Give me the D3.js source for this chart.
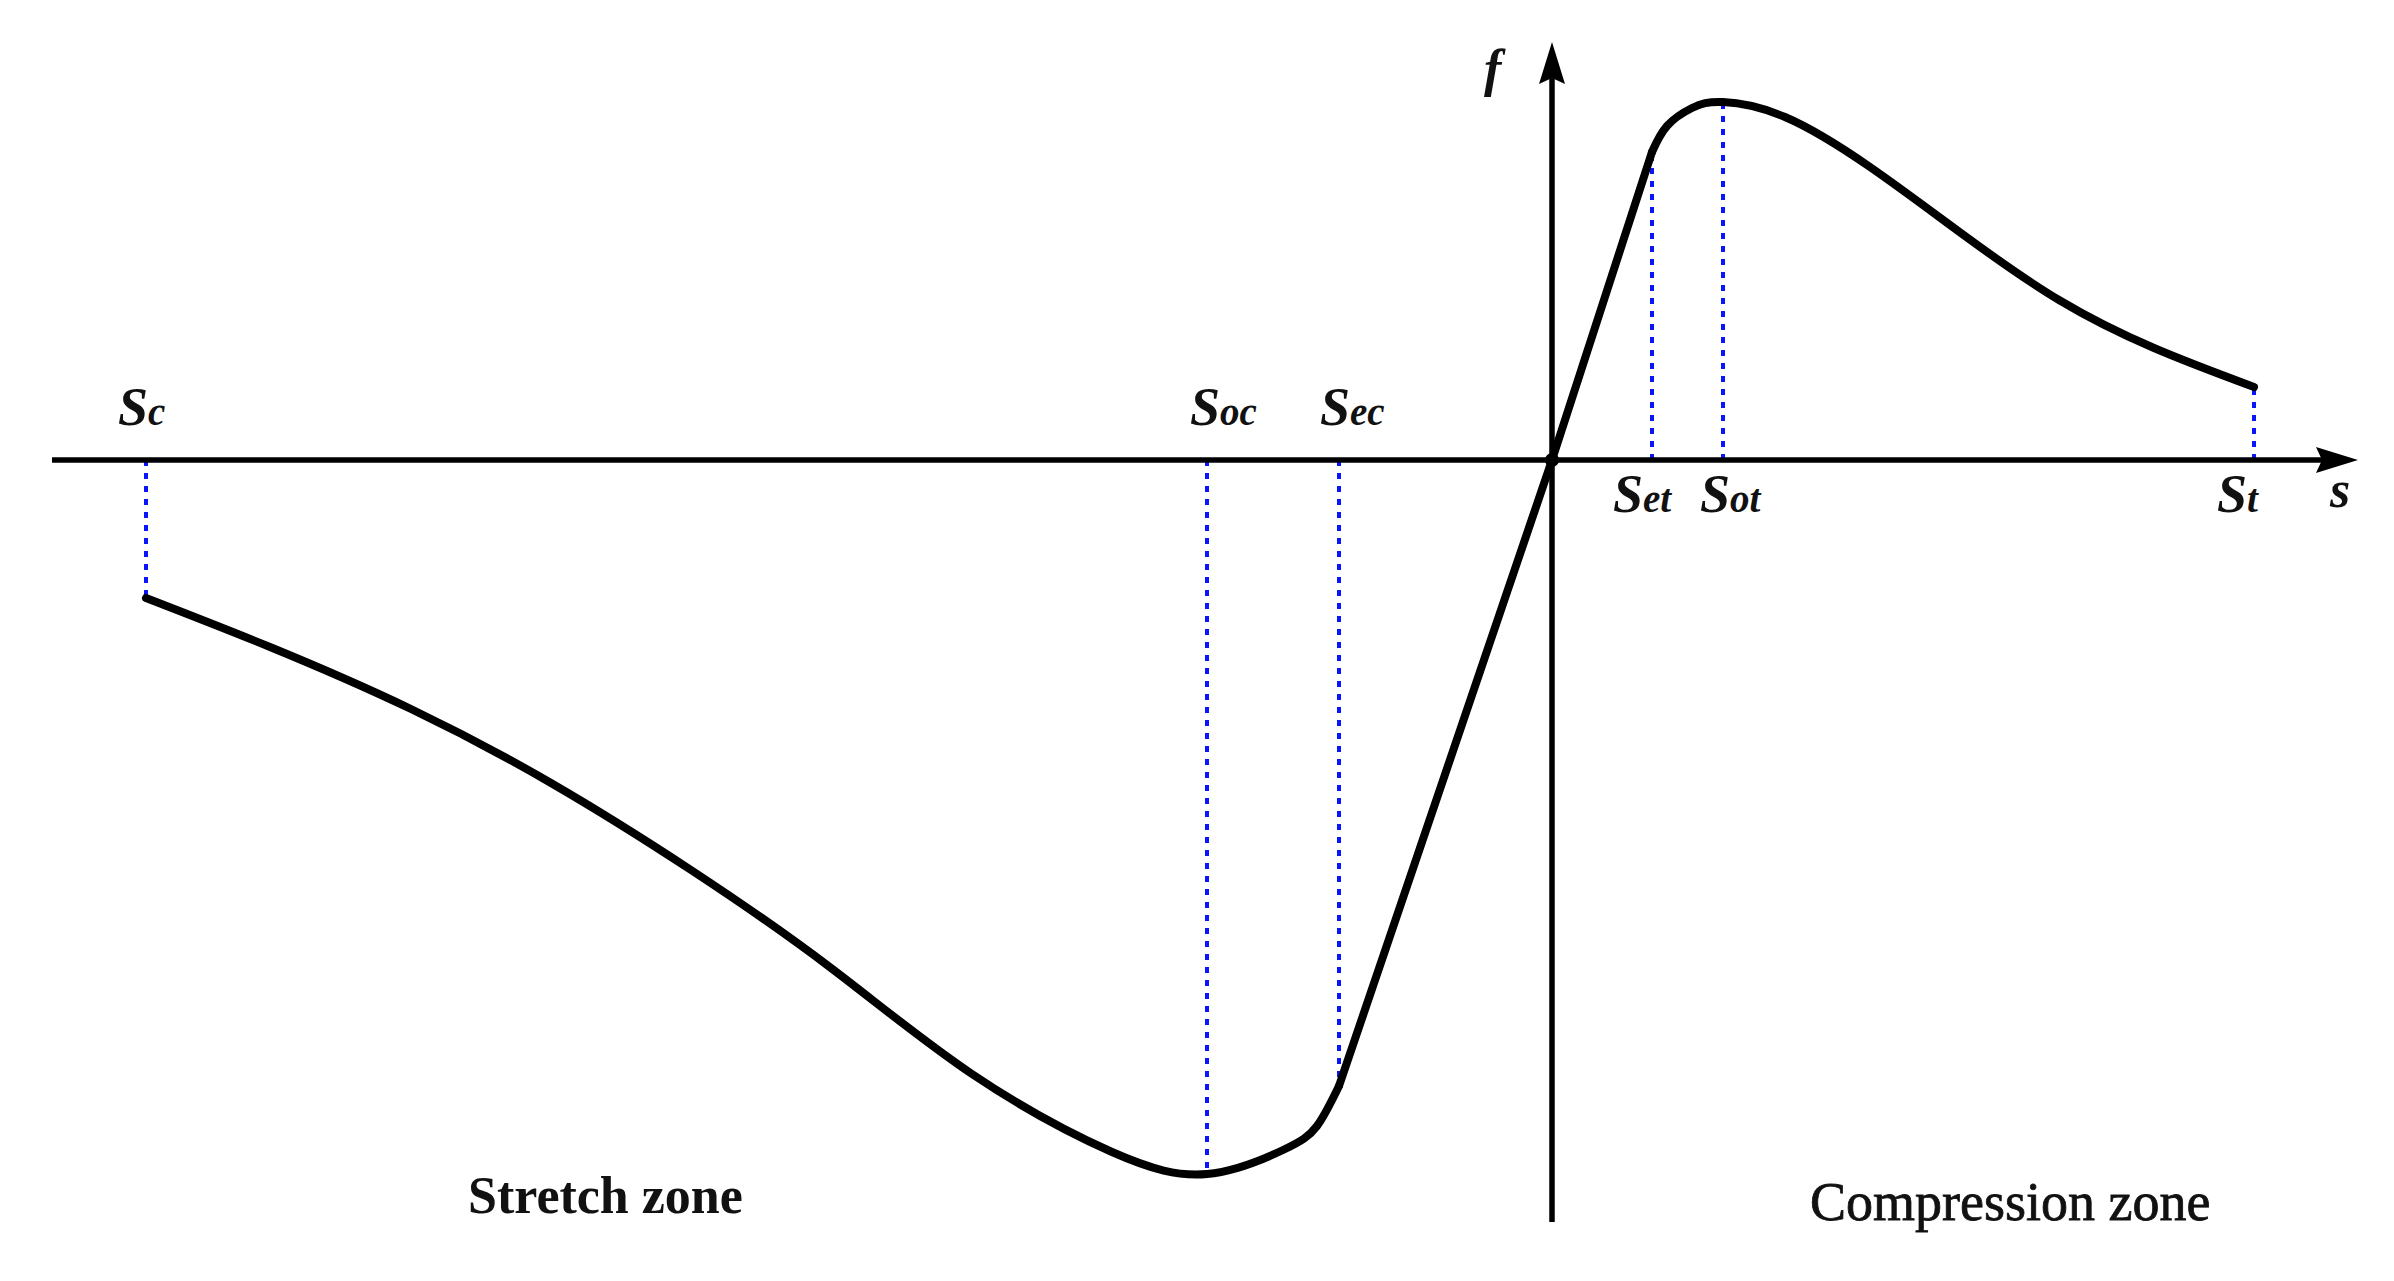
<!DOCTYPE html>
<html><head><meta charset="utf-8">
<script src="https://cdn.jsdelivr.net/npm/d3@7"></script>
<style>html,body{margin:0;padding:0;background:#fff}svg{display:block}</style>
</head><body><svg id="chart" width="2394" height="1281"></svg>
<script>
// ---------- data (s, f) ----------
const stretchBranch = [
  [-14.06,-1.38],[-12.82,-1.87],[-11.41,-2.49],[-10.01,-3.23],
  [-8.61,-4.10],[-7.21,-5.08],[-5.80,-6.14],[-4.40,-6.92],
  [-3.45,-7.14],[-2.69,-6.90],[-2.35,-6.66],[-2.13,-6.26]
];
const elasticBranch = [[-2.13,-6.26],[0,0],[1.00,3.08]];
const compressionBranch = [
  [1.00,3.08],[1.15,3.34],[1.40,3.52],[1.71,3.58],[2.33,3.43],
  [3.18,2.93],[4.13,2.24],[5.07,1.60],[6.02,1.12],[7.02,0.73]
];
const keySubscripts = ["c","oc","ec","et","ot","t"];
const keyS = [-14.06,-3.45,-2.13,1.00,1.71,7.02];
const keyF = [-1.38,-7.14,-6.26,3.08,3.58,0.73];
const sExtent = [-15.0, 8.06];
const fExtent = [-7.62, 4.18];
const zoneNames = ["Stretch zone","Compression zone"];
const zoneS = [-10.84, 2.58];

// ---------- layout ----------
const labelDx = [-28,-17,-19,-39,-23,-37];
const labelAbove = [true,true,true,false,false,false];
const svg = d3.select("#chart");
const x = d3.scaleLinear().domain(sExtent).range([52, 2358]);
const y = d3.scaleLinear().domain(fExtent).range([1222, 42]);
const serif = "'Liberation Serif','Times New Roman',Times,serif";

// dotted projection lines
svg.append("g").selectAll("line").data(keyS).join("line")
  .attr("x1", d => x(d)).attr("x2", d => x(d))
  .attr("y1", y(0)).attr("y2", (d,i) => y(keyF[i]))
  .attr("stroke", "#0a14ff").attr("stroke-width", 4)
  .attr("stroke-dasharray", "6,7");

// axes
const ax = svg.append("g");
ax.append("line").attr("x1", x(sExtent[0])).attr("x2", x(sExtent[1]) - 30)
  .attr("y1", y(0)).attr("y2", y(0)).attr("stroke", "#000").attr("stroke-width", 5.5);
ax.append("line").attr("x1", x(0)).attr("x2", x(0))
  .attr("y1", y(fExtent[0])).attr("y2", y(fExtent[1]) + 30)
  .attr("stroke", "#000").attr("stroke-width", 5.5);
const tx = x(sExtent[1]), ty = y(0);
ax.append("path").attr("d", `M${tx},${ty} L${tx-42},${ty-13} L${tx-36},${ty} L${tx-42},${ty+13} Z`).attr("fill", "#000");
const vx = x(0), vy = y(fExtent[1]);
ax.append("path").attr("d", `M${vx},${vy} L${vx-13},${vy+42} L${vx},${vy+36} L${vx+13},${vy+42} Z`).attr("fill", "#000");

// curve
const smooth = d3.line().x(d => x(d[0])).y(d => y(d[1])).curve(d3.curveNatural);
const straight = d3.line().x(d => x(d[0])).y(d => y(d[1]));
const cg = svg.append("g").attr("fill", "none").attr("stroke", "#000")
  .attr("stroke-width", 8).attr("stroke-linejoin", "round").attr("stroke-linecap", "round");
cg.append("path").attr("d", smooth(stretchBranch));
cg.append("path").attr("d", straight(elasticBranch));
cg.append("path").attr("d", smooth(compressionBranch));
svg.append("circle").attr("cx", x(0)).attr("cy", y(0)).attr("r", 7).attr("fill", "#000");

// key point labels
const lg = svg.append("g").attr("font-family", serif).attr("font-weight", "bold")
  .attr("font-style", "italic").attr("fill", "#111");
keyS.forEach((s, i) => {
  const t = lg.append("text")
    .attr("x", x(s) + labelDx[i])
    .attr("y", labelAbove[i] ? y(0) - 35 : y(0) + 52);
  t.append("tspan").attr("font-size", 54).text("S");
  t.append("tspan").attr("font-size", 39).text(keySubscripts[i]);
});

// axis names
lg.append("text").attr("x", 2330).attr("y", 507).attr("font-size", 52).text("s");
lg.append("text").attr("x", 1484).attr("y", 86).attr("font-size", 52).text("f");

// zone labels
svg.append("text").attr("x", x(zoneS[0])).attr("y", 1213)
  .attr("font-family", serif).attr("font-weight", "bold").attr("font-size", 52)
  .attr("fill", "#111").text(zoneNames[0]);
svg.append("text").attr("x", x(zoneS[1])).attr("y", 1220)
  .attr("font-family", serif).attr("font-size", 54)
  .attr("fill", "#111").attr("stroke", "#111").attr("stroke-width", 0.8)
  .text(zoneNames[1]);
</script></body></html>
